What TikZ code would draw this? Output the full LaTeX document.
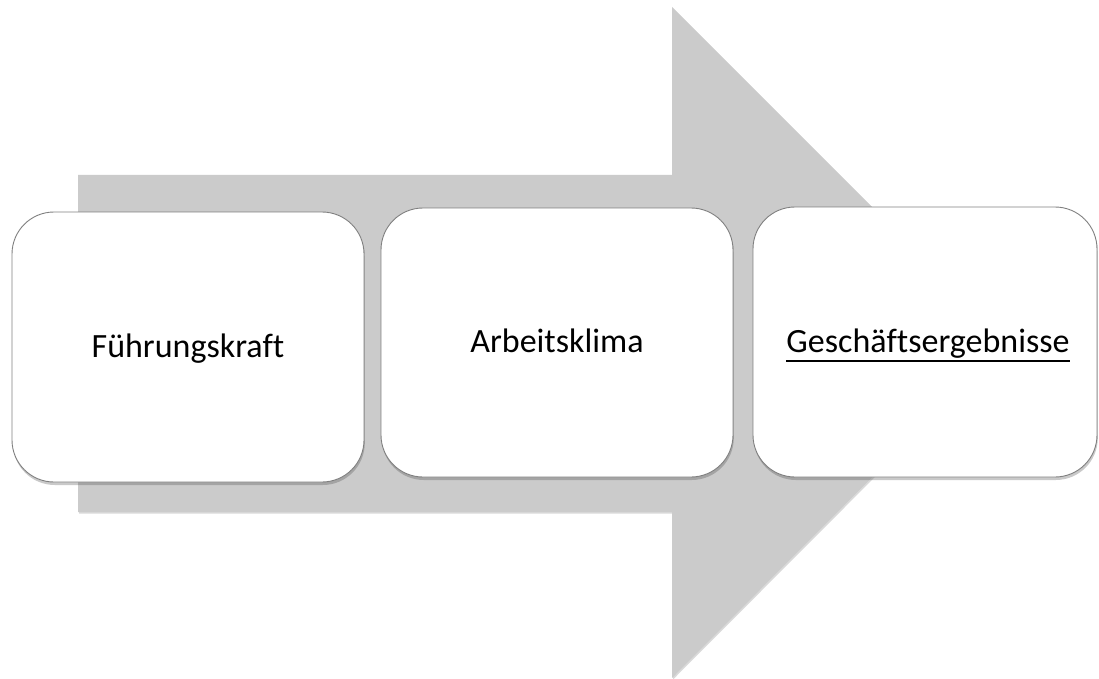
\documentclass[tikz,border=0pt]{standalone}
\usepackage{fontspec}
\setmainfont{Carlito}[Ligatures=NoCommon]
\usetikzlibrary{shadows}
\definecolor{arrowgray}{HTML}{CBCBCB}
\definecolor{boxedge}{HTML}{808080}
\tikzset{
  stagebox/.style={draw=boxedge, line width=0.9bp, rounded corners=42bp,
    fill=white,
    drop shadow={shadow xshift=0.8bp, shadow yshift=-3bp, opacity=0.3, fill=black!70}},
  stagetext/.style={font=\fontsize{34bp}{40bp}\selectfont, text=black, inner sep=0pt},
  bigarrow/.style={fill=arrowgray,
    drop shadow={shadow xshift=1bp, shadow yshift=-1.5bp, opacity=0.15, fill=black}}
}
\begin{document}
\begin{tikzpicture}[x=1bp,y=-1bp]
\useasboundingbox (0,0) rectangle (1099,679);
% big arrow
\path[bigarrow] (78,175) -- (672,175) -- (672,7) -- (1007,342) -- (672,678) -- (672,512) -- (78,512) -- cycle;
% boxes
\path[stagebox] (12,212) rectangle (364,482);
\path[stagebox] (381,208) rectangle (733,477);
\path[stagebox] (753,207) rectangle (1097,477);
\node[stagetext, anchor=base] (f) at (188,357) {Führungskraft};
\node[stagetext, anchor=base] (a) at (557,352.5) {Arbeitsklima};
\node[stagetext, anchor=base] (g) at (928,352) {Geschäftsergebnisse};
\draw[line width=2bp] ([yshift=-8.5bp]g.base west) -- ([yshift=-8.5bp]g.base east);
\end{tikzpicture}
\end{document}
